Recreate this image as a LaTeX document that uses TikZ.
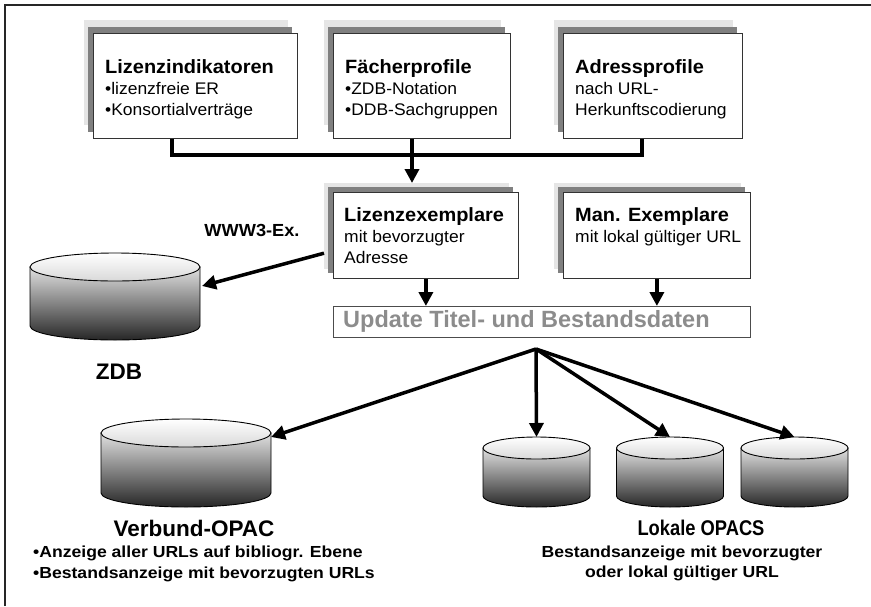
\documentclass[tikz,border=0pt]{standalone}
\usepackage{fontspec}
\setmainfont{Liberation Sans}
\newfontfamily\fsa[FakeStretch=1.04]{Liberation Sans}
\newfontfamily\fsb[FakeStretch=1.1]{Liberation Sans}
\newfontfamily\fsn[FakeStretch=0.86]{Liberation Sans}
\usetikzlibrary{arrows.meta}
\newcommand\ttl[1]{{\fontsize{19.2}{21}\fsa\bfseries #1}}
\newcommand\dbcyl[6]{% #1 name, #2 cx, #3 y of top ellipse centre, #4 rx, #5 ry, #6 body height
  \shadedraw[cylbody] ({#2-#4},#3) -- ++(0,#6) arc[start angle=180,end angle=360,x radius=#4pt,y radius=#5pt] -- ++(0,-#6) -- cycle;
  \shadedraw[cyltop] (#2,#3) ellipse [x radius=#4pt,y radius=#5pt];
  \coordinate (#1-top) at (#2,{#3-#5});
}
\tikzset{
  frame/.style={line width=2pt,black!85},
  lightsh/.style={fill=black!10,draw=none,anchor=north west,inner sep=0pt},
  darksh/.style={fill=black!50,draw=none,anchor=north west,inner sep=0pt},
  whitebox/.style={draw=black!80,line width=0.8pt,fill=white,anchor=north west,inner sep=0pt},
  boxtext/.style={inner sep=0pt,align=left,font=\fontsize{16.8}{21}\fsa},
  updbox/.style={draw=black!70,line width=0.8pt,anchor=north west,inner sep=0pt},
  updtext/.style={inner sep=0pt,text=black!45,font=\fontsize{23.5}{26}\selectfont\bfseries},
  conn/.style={line width=4pt,black,line join=miter},
  arr/.style={line width=3.5pt,black,-{Triangle[length=14pt,width=14pt]}},
  cylbody/.style={line width=0.9pt,draw=black,top color=black!12,bottom color=black!85},
  cyltop/.style={line width=0.9pt,draw=black,top color=white,bottom color=black!15},
  lbl/.style={inner sep=0pt,text=black},
}
\begin{document}
\begin{tikzpicture}[x=1pt,y=-1pt]
\useasboundingbox (0,0) rectangle (871,606);
\draw[frame] (5,606) -- (5,5) -- (871,5);

% top row
\node[lightsh,minimum width=204pt,minimum height=105pt] (lizL) at (84,20) {};
\node[darksh,minimum width=204pt,minimum height=105pt] (lizD) at (88,27) {};
\node[whitebox,minimum width=204pt,minimum height=105pt] (liz) at (93,33) {};
\node[boxtext,anchor=west] (lizT) at ([xshift=12pt,yshift=-3pt]liz.west)
  {\ttl{Lizenzindikatoren}\\•lizenzfreie ER\\•Konsortialverträge};

\node[lightsh,minimum width=177pt,minimum height=105pt] (faeL) at (324,20) {};
\node[darksh,minimum width=177pt,minimum height=105pt] (faeD) at (328,27) {};
\node[whitebox,minimum width=177pt,minimum height=105pt] (fae) at (333,33) {};
\node[boxtext,anchor=west] (faeT) at ([xshift=12pt,yshift=-3pt]fae.west)
  {\ttl{Fächerprofile}\\•ZDB-Notation\\•DDB-Sachgruppen};

\node[lightsh,minimum width=179pt,minimum height=105pt] (adrL) at (554,20) {};
\node[darksh,minimum width=179pt,minimum height=105pt] (adrD) at (558,27) {};
\node[whitebox,minimum width=179pt,minimum height=105pt] (adr) at (563,33) {};
\node[boxtext,anchor=west] (adrT) at ([xshift=12pt,yshift=-3pt]adr.west)
  {\ttl{Adressprofile}\\nach URL-\\Herkunftscodierung};

% middle row
\node[lightsh,minimum width=185pt,minimum height=86pt] (lizexL) at (324,183) {};
\node[darksh,minimum width=185pt,minimum height=86pt] (lizexD) at (328,187) {};
\node[whitebox,minimum width=185pt,minimum height=86pt] (lizex) at (333,192) {};
\node[boxtext,anchor=west] (lizexT) at ([xshift=11pt]lizex.west)
  {\ttl{Lizenzexemplare}\\mit bevorzugter\\Adresse};

\node[lightsh,minimum width=187pt,minimum height=86pt] (manL) at (554,183) {};
\node[darksh,minimum width=187pt,minimum height=86pt] (manD) at (558,187) {};
\node[whitebox,minimum width=187pt,minimum height=86pt] (man) at (563,192) {};
\node[boxtext,anchor=north west] (manT) at ([xshift=12pt]lizexT.north -| man.west)
  {\ttl{Man. Exemplare}\\mit lokal gültiger URL};

\node[updbox,minimum width=417pt,minimum height=31pt] (upd) at (333,306) {};
\node[updtext,anchor=west] (updT) at ([xshift=10pt]upd.west) {Update Titel- und Bestandsdaten};

% connectors of the top row
\coordinate (b1) at (172,155);
\coordinate (b3) at (642,155);
\coordinate (fx) at (412,155);
\draw[conn] (liz.south -| b1) -- (b1) -- (b3) -- (adr.south -| b3);
\draw[arr] (fae.south -| fx) -- (lizexL.north -| fx);

\draw[arr] (lizex.south) -- (lizex.south |- upd.north);
\draw[arr] (man.south) -- (man.south |- upd.north);

% databases
\dbcyl{zdb}{115}{267}{85}{14}{59}
\dbcyl{verb}{186}{433}{85}{14}{60}
\dbcyl{loc1}{536.5}{448}{53.5}{11}{48}
\dbcyl{loc2}{670}{448}{53.5}{11}{48}
\dbcyl{loc3}{794.5}{448}{53.5}{11}{48}

\coordinate (zin) at (202,286);
\draw[arr] ([yshift=-27pt]lizexL.west) -- (zin);
\node[lbl,font=\fontsize{17.5}{20}\fsa\bfseries] (www) at (252,230) {WWW3-Ex.};

\coordinate (hub) at (536,349);
\coordinate (vin) at (271,437);
\draw[arr] (hub) -- (vin);
\draw[arr] (hub) -- (loc1-top);
\draw[arr] (hub) -- (loc2-top);
\draw[arr] (hub) -- (loc3-top);

% labels
\node[lbl,font=\fontsize{22.5}{25}\selectfont\bfseries] (zdbl) at (119,372) {ZDB};
\node[lbl,font=\fontsize{22.5}{25}\selectfont\bfseries] (verbl) at (194,528) {Verbund-OPAC};
\node[lbl,anchor=west,align=left,font=\fontsize{16}{21}\fsb\bfseries] (verbs) at (33,563.5)
  {•Anzeige aller URLs auf bibliogr. Ebene\\•Bestandsanzeige mit bevorzugten URLs};
\node[lbl,font=\fontsize{21.3}{24}\fsn\bfseries] (lokl) at (701,528) {Lokale OPACS};
\node[lbl,align=center,font=\fontsize{16}{20}\fsb\bfseries] (loks) at (682,563)
  {Bestandsanzeige mit bevorzugter\\oder lokal gültiger URL};
\end{tikzpicture}
\end{document}
